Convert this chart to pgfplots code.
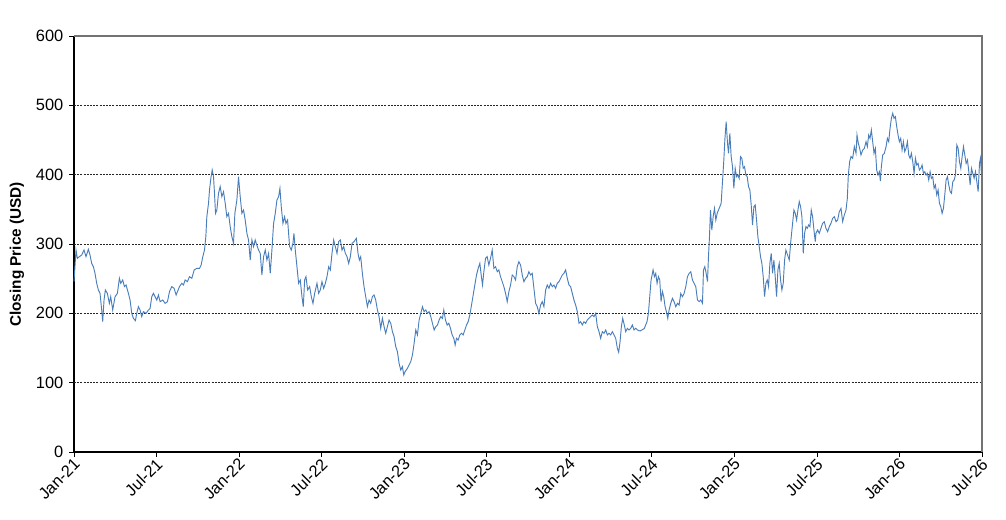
\documentclass[border=0pt]{standalone}
\usepackage{pgfplots}
\pgfplotsset{compat=1.18}
\usepackage{fontspec}
\setmainfont{Liberation Sans}
\definecolor{linecol}{RGB}{74,126,187}
\begin{document}
\begin{tikzpicture}
\path[use as bounding box] (-55.5pt,-51pt) rectangle (699pt,339pt);
\begin{axis}[
  scale only axis,
  width=681pt, height=312pt,
  xmin=0, xmax=66, ymin=0, ymax=600,
  axis x line*=bottom, axis y line*=left,
  axis line style={black, line width=0.8pt},
  tick align=outside,
  major tick length=3.5pt,
  tick style={black, line width=0.6pt},
  xtick={0,6,...,66},
  xticklabels={Jan-21,Jul-21,Jan-22,Jul-22,Jan-23,Jul-23,Jan-24,Jul-24,Jan-25,Jul-25,Jan-26,Jul-26},
  ytick={0,100,...,600},
  extra y ticks={100,200,300,400,500},
  extra y tick labels={},
  extra y tick style={grid=major, major tick length=0pt},
  grid style={black!85, line width=0.6pt, dash pattern=on 1.5pt off 0.9pt},
  /pgf/number format/assume math mode=true,
  ticklabel style={font=\fontsize{12.3}{14}\selectfont},
  xticklabel style={rotate=45, anchor=east, xshift=2.5pt, yshift=-4pt},
  yticklabel style={xshift=-1pt},
  ylabel={Closing Price (USD)},
  ylabel style={font=\bfseries\fontsize{11.5}{13}\selectfont, at={(axis description cs:-0.0628,0.475)}, anchor=center},
  clip=false,
]
\addplot[linecol, line width=0.7pt] coordinates {
(0,245.7)(0.146,291.3)(0.243,279.3)(0.388,281.7)(0.558,284.1)(0.728,291.3)(0.873,281.7)(1.043,292.3)(1.164,284.1)(1.286,272.1)
(1.407,267.3)(1.528,257.7)(1.650,243.3)(1.771,233.7)(1.892,228.8)(2.014,204.8)(2.086,188.0)(2.183,219.2)(2.280,233.7)(2.426,228.8)
(2.572,214.4)(2.669,224.0)(2.814,204.8)(2.984,224.0)(3.154,228.8)(3.299,250.5)(3.396,243.3)(3.542,248.1)(3.663,238.5)(3.785,240.9)
(3.954,228.8)(4.076,219.2)(4.197,200.0)(4.318,192.8)(4.464,189.4)(4.561,200.0)(4.682,209.6)(4.803,204.8)(4.925,195.2)(5.046,202.4)
(5.240,200.0)(5.410,204.8)(5.531,207.2)(5.653,224.0)(5.774,228.8)(5.895,224.0)(6.016,219.2)(6.138,226.4)(6.259,216.8)(6.453,219.2)
(6.623,214.4)(6.793,216.8)(6.938,231.3)(7.108,238.5)(7.278,236.1)(7.424,226.4)(7.521,231.3)(7.666,238.5)(7.836,243.3)(7.957,240.9)
(8.079,248.1)(8.248,245.7)(8.394,252.9)(8.564,250.5)(8.734,262.5)(8.928,264.9)(9.122,264.9)(9.243,269.7)(9.364,281.7)(9.486,291.3)
(9.583,310.6)(9.655,339.4)(9.777,358.7)(9.850,377.9)(9.947,394.7)(10.044,406.7)(10.141,397.1)(10.213,373.1)(10.286,344.2)(10.383,349.0)
(10.505,373.1)(10.626,382.7)(10.747,368.3)(10.869,375.5)(10.990,358.7)(11.111,339.4)(11.232,344.2)(11.354,325.0)(11.475,310.6)(11.596,301.0)
(11.693,344.2)(11.839,363.5)(11.960,397.1)(12.081,368.3)(12.203,344.2)(12.324,349.0)(12.445,334.6)(12.567,315.4)(12.688,305.8)(12.809,276.9)
(12.931,305.8)(13.052,296.2)(13.173,305.8)(13.294,298.0)(13.416,291.3)(13.537,286.5)(13.658,255.3)(13.780,281.7)(13.901,291.3)(14.022,276.9)
(14.144,286.5)(14.265,257.7)(14.386,291.3)(14.508,329.8)(14.629,344.2)(14.750,363.5)(14.872,368.3)(14.969,380.3)(15.066,353.8)(15.187,329.8)
(15.308,339.4)(15.405,329.8)(15.526,334.6)(15.672,296.2)(15.793,291.3)(15.915,301.0)(15.987,315.4)(16.084,291.3)(16.206,267.3)(16.327,243.3)
(16.448,248.1)(16.570,224.0)(16.667,209.6)(16.764,248.1)(16.861,252.9)(16.982,233.7)(17.128,238.5)(17.249,224.0)(17.370,214.4)(17.492,228.8)
(17.661,243.3)(17.783,228.8)(17.904,233.7)(18.025,245.7)(18.147,236.1)(18.268,243.3)(18.389,252.9)(18.511,267.3)(18.632,262.5)(18.753,286.5)
(18.875,305.8)(18.996,296.2)(19.117,286.5)(19.238,303.4)(19.360,305.8)(19.481,291.3)(19.602,296.2)(19.724,286.5)(19.845,281.7)(19.966,272.1)
(20.087,281.7)(20.209,301.0)(20.354,303.4)(20.524,308.2)(20.645,286.5)(20.742,276.9)(20.840,281.7)(20.961,257.7)(21.082,238.5)(21.204,224.0)
(21.325,209.6)(21.446,219.2)(21.567,214.4)(21.689,224.0)(21.810,226.4)(21.931,219.2)(22.053,204.8)(22.174,195.2)(22.295,178.4)(22.416,192.8)
(22.538,180.8)(22.659,171.2)(22.780,180.8)(22.902,190.4)(23.023,185.6)(23.144,173.6)(23.266,166.3)(23.387,151.9)(23.508,144.7)(23.629,127.9)
(23.751,118.3)(23.872,123.1)(23.969,111.1)(24.066,115.9)(24.236,120.7)(24.357,125.5)(24.478,130.3)(24.600,139.9)(24.721,156.7)(24.842,176.0)
(24.964,168.8)(25.085,190.4)(25.206,200.0)(25.328,209.6)(25.449,202.4)(25.570,204.8)(25.691,200.0)(25.813,202.4)(25.934,195.2)(26.055,185.6)
(26.177,176.0)(26.298,180.8)(26.419,183.2)(26.541,190.4)(26.662,195.2)(26.783,192.8)(26.880,204.8)(27.001,190.4)(27.123,183.2)(27.244,185.6)
(27.365,178.4)(27.487,168.8)(27.608,164.0)(27.705,154.3)(27.802,164.0)(27.923,161.5)(28.045,168.8)(28.166,171.2)(28.287,168.8)(28.409,176.0)
(28.530,183.2)(28.651,188.0)(28.773,197.6)(28.894,212.0)(29.015,226.4)(29.136,240.9)(29.258,255.3)(29.379,264.9)(29.500,272.1)(29.597,255.3)
(29.694,240.9)(29.791,260.1)(29.913,279.3)(30.034,281.7)(30.155,269.7)(30.277,279.3)(30.398,291.3)(30.519,264.9)(30.641,267.3)(30.762,260.1)
(30.883,262.5)(31.004,252.9)(31.126,245.7)(31.247,238.5)(31.368,228.8)(31.490,216.8)(31.611,231.3)(31.732,240.9)(31.854,255.3)(31.975,252.9)
(32.096,248.1)(32.217,267.3)(32.339,274.5)(32.460,269.7)(32.581,255.3)(32.703,245.7)(32.824,250.5)(32.945,252.9)(33.067,260.1)(33.188,255.3)
(33.309,257.7)(33.430,236.1)(33.552,214.4)(33.673,209.6)(33.794,200.0)(33.916,212.0)(34.037,216.8)(34.158,209.6)(34.280,233.7)(34.401,240.9)
(34.522,236.1)(34.643,243.3)(34.765,238.5)(34.886,240.9)(35.007,236.1)(35.129,243.3)(35.250,245.7)(35.371,250.5)(35.493,255.3)(35.614,257.7)
(35.735,262.5)(35.856,250.5)(35.978,240.9)(36.099,238.5)(36.220,228.8)(36.342,219.2)(36.463,212.0)(36.584,202.4)(36.706,185.6)(36.827,188.0)
(36.948,183.2)(37.069,188.0)(37.191,185.6)(37.312,190.4)(37.433,192.8)(37.555,195.2)(37.676,197.6)(37.797,195.2)(37.919,200.0)(38.040,180.8)
(38.161,173.6)(38.282,164.0)(38.404,173.6)(38.525,171.2)(38.646,176.0)(38.768,168.8)(38.889,171.2)(39.010,168.8)(39.132,173.6)(39.253,168.8)
(39.374,164.0)(39.496,149.5)(39.593,143.8)(39.690,159.1)(39.787,180.8)(39.884,192.8)(40.000,183.2)(40.102,173.6)(40.223,178.4)(40.345,176.0)
(40.466,178.4)(40.587,183.2)(40.708,176.0)(40.830,178.4)(40.951,176.0)(41.145,174.5)(41.450,178.0)(41.650,188.0)(41.752,200.0)(41.849,224.0)
(41.946,248.1)(42.091,262.5)(42.188,252.9)(42.285,257.7)(42.382,243.3)(42.479,252.9)(42.576,248.1)(42.673,216.8)(42.770,231.3)(42.867,224.0)
(42.964,209.6)(43.061,202.4)(43.159,192.8)(43.256,204.8)(43.377,214.4)(43.498,221.6)(43.620,216.8)(43.741,209.6)(43.862,214.4)(43.983,212.0)
(44.105,228.8)(44.226,224.0)(44.347,228.8)(44.469,238.5)(44.590,252.9)(44.711,257.7)(44.833,260.1)(44.954,248.1)(45.075,243.3)(45.196,238.5)
(45.318,219.2)(45.439,216.8)(45.560,219.2)(45.682,214.4)(45.755,262.5)(45.852,267.3)(45.949,257.7)(46.046,245.7)(46.118,281.7)(46.191,310.6)
(46.264,349.0)(46.361,320.2)(46.458,339.4)(46.555,351.4)(46.652,334.6)(46.749,344.2)(46.846,349.0)(46.943,353.8)(47.040,358.7)(47.137,389.9)
(47.234,421.2)(47.307,450.0)(47.404,476.4)(47.501,445.2)(47.574,430.8)(47.671,459.6)(47.768,426.0)(47.865,411.5)(47.962,380.3)(48.059,409.1)
(48.156,397.1)(48.253,399.5)(48.350,394.7)(48.447,426.0)(48.544,423.6)(48.642,409.1)(48.739,411.5)(48.836,399.5)(48.933,397.1)(49.030,382.7)
(49.127,377.9)(49.224,356.3)(49.321,327.4)(49.418,353.8)(49.515,356.3)(49.612,334.6)(49.709,310.6)(49.806,296.2)(49.903,281.7)(50.000,272.1)
(50.097,252.9)(50.194,224.0)(50.291,243.3)(50.388,248.1)(50.485,238.5)(50.582,272.1)(50.679,286.5)(50.776,257.7)(50.873,276.9)(50.970,252.9)
(51.067,224.0)(51.164,262.5)(51.261,272.1)(51.358,248.1)(51.455,233.7)(51.552,243.3)(51.650,276.9)(51.747,291.3)(51.868,284.1)(51.989,276.9)
(52.111,305.8)(52.232,329.8)(52.329,349.0)(52.426,344.2)(52.523,334.6)(52.620,349.0)(52.717,361.1)(52.814,353.8)(52.911,339.4)(53.008,286.5)
(53.105,315.4)(53.202,325.0)(53.299,322.6)(53.396,327.4)(53.493,325.0)(53.590,349.0)(53.687,339.4)(53.784,320.2)(53.881,303.4)(53.930,315.4)
(54.051,320.2)(54.173,315.4)(54.294,322.6)(54.415,329.8)(54.537,332.2)(54.658,322.6)(54.779,317.8)(54.901,325.0)(55.022,329.8)(55.143,337.0)
(55.265,339.4)(55.386,332.2)(55.507,334.6)(55.628,346.6)(55.750,351.4)(55.871,332.2)(55.992,341.8)(56.114,349.0)(56.211,365.9)(56.283,399.5)
(56.380,418.8)(56.477,426.0)(56.599,423.6)(56.720,440.4)(56.841,430.8)(56.914,457.2)(57.011,445.2)(57.108,438.0)(57.205,428.4)(57.327,435.6)
(57.448,438.0)(57.569,447.6)(57.666,440.4)(57.763,457.2)(57.860,452.4)(57.957,464.4)(58.054,447.6)(58.151,430.8)(58.248,438.0)(58.345,406.7)
(58.442,399.5)(58.540,404.3)(58.612,390.9)(58.685,411.5)(58.782,428.4)(58.903,430.8)(59.025,440.4)(59.122,452.4)(59.219,447.6)(59.316,466.8)
(59.413,481.3)(59.510,488.5)(59.607,481.3)(59.704,483.7)(59.801,469.2)(59.898,457.2)(59.995,447.6)(60.092,452.4)(60.189,435.6)(60.286,447.6)
(60.383,433.2)(60.480,438.0)(60.577,447.6)(60.674,428.4)(60.771,423.6)(60.868,430.8)(60.965,418.8)(61.062,401.9)(61.160,423.6)(61.257,413.9)
(61.354,416.3)(61.451,406.7)(61.548,409.1)(61.645,413.9)(61.742,401.9)(61.839,404.3)(61.936,399.5)(62.033,401.9)(62.130,392.3)(62.227,404.3)
(62.324,394.7)(62.421,397.1)(62.518,380.3)(62.615,385.1)(62.712,370.7)(62.809,377.9)(62.906,358.7)(63.003,353.8)(63.100,344.2)(63.197,351.4)
(63.294,370.7)(63.391,392.3)(63.488,397.1)(63.585,385.1)(63.683,375.5)(63.780,373.1)(63.877,389.9)(63.974,392.3)(64.071,399.5)(64.168,442.8)
(64.265,438.0)(64.362,418.8)(64.459,409.1)(64.556,426.0)(64.653,440.4)(64.750,428.4)(64.847,416.3)(64.944,421.2)(65.041,404.3)(65.138,385.1)
(65.235,409.1)(65.332,401.9)(65.429,394.7)(65.526,404.3)(65.623,389.9)(65.720,375.5)(65.818,416.3)(65.890,423.6)(65.963,399.5)(66.0,405.0)
};
\draw[black!55, line width=0.8pt] (rel axis cs:0,1) -- (rel axis cs:1,1) -- (rel axis cs:1,0);
\end{axis}
\end{tikzpicture}
\end{document}
